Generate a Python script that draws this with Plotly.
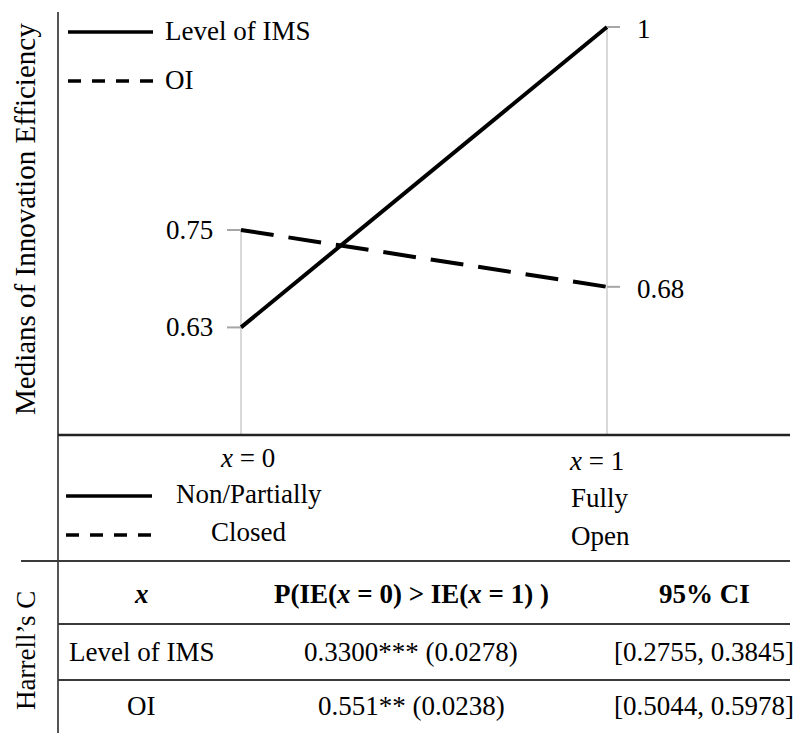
import plotly.graph_objects as go

# ---------------- data ----------------
x_positions = [0, 1]
series_names = ["Level of IMS", "OI"]
ims_values = [0.63, 1.0]
oi_values = [0.75, 0.68]
x_tick_labels = ["x = 0", "x = 1"]
ims_categories = ["Non/Partially", "Fully"]
oi_categories = ["Closed", "Open"]
y_title = "Medians of Innovation Efficiency"

table_side_label = "Harrell’s C"
table_header = ["<b><i>x</i></b>", "<b>P(IE(<i>x</i> = 0) &gt; IE(<i>x</i> = 1) )</b>", "<b>95% CI</b>"]
table_rows = [
    ["Level of IMS", "0.3300*** (0.0278)", "[0.2755, 0.3845]"],
    ["OI", "0.551** (0.0238)", "[0.5044, 0.5978]"],
]

# ---------------- geometry helpers ----------------
W, H = 801, 733
FONT = "'Liberation Serif', 'Times New Roman', serif"
FS = 27


def px(x):
    return x / W


def py(y):
    return 1 - y / H


YR = [0.4975, 1.0185]
XR = [-0.5, 1.5]

fig = go.Figure()

fig.add_trace(go.Scatter(x=x_positions, y=ims_values, mode="lines", name=series_names[0],
                         line=dict(color="black", width=4), showlegend=False, hoverinfo="skip"))
fig.add_trace(go.Scatter(x=x_positions, y=oi_values, mode="lines", name=series_names[1],
                         line=dict(color="black", width=4, dash="33px,15px"), showlegend=False,
                         hoverinfo="skip"))

shapes = []
annotations = []

# drop lines from highest point down to axis
for xi in x_positions:
    top = max(ims_values[xi], oi_values[xi])
    shapes.append(dict(type="line", xref="x", yref="y", x0=xi, x1=xi, y0=YR[0], y1=top,
                       line=dict(color="#d9d9d9", width=2), layer="below"))

# leader ticks and value labels
for xi in x_positions:
    for vals in (ims_values, oi_values):
        v = vals[xi]
        if xi == 0:
            shapes.append(dict(type="line", xref="x", yref="y", xsizemode="pixel", xanchor=xi,
                               x0=-14, x1=0, y0=v, y1=v, line=dict(color="#a6a6a6", width=2)))
            annotations.append(dict(x=xi, y=v, xref="x", yref="y", text=f"{v:g}",
                                    showarrow=False, xanchor="right", yanchor="middle",
                                    xshift=-26, font=dict(family=FONT, size=FS, color="black")))
        else:
            shapes.append(dict(type="line", xref="x", yref="y", xsizemode="pixel", xanchor=xi,
                               x0=0, x1=13, y0=v, y1=v, line=dict(color="#a6a6a6", width=2)))
            annotations.append(dict(x=xi, y=v, xref="x", yref="y", text=f"{v:g}",
                                    showarrow=False, xanchor="left", yanchor="middle",
                                    xshift=28, yshift=-2,
                                    font=dict(family=FONT, size=FS, color="black")))

# structural lines
line_dark = dict(color="#3a3a3a", width=2)
shapes += [
    dict(type="line", xref="paper", yref="paper", x0=px(58), x1=px(58), y0=py(12), y1=py(733),
         line=dict(color="#555555", width=2)),
    dict(type="line", xref="paper", yref="paper", x0=px(58), x1=px(790), y0=py(435), y1=py(435),
         line=dict(color="#222222", width=2.5)),
    dict(type="line", xref="paper", yref="paper", x0=px(21), x1=px(790), y0=py(561), y1=py(561),
         line=line_dark),
    dict(type="line", xref="paper", yref="paper", x0=px(58), x1=px(790), y0=py(624), y1=py(624),
         line=line_dark),
    dict(type="line", xref="paper", yref="paper", x0=px(58), x1=px(790), y0=py(680), y1=py(680),
         line=line_dark),
]

# legend (top-left) and category keys (below axis)
def key_line(x0, x1, y, dash):
    shapes.append(dict(type="line", xref="paper", yref="paper", x0=px(x0), x1=px(x1),
                       y0=py(y), y1=py(y), line=dict(color="black", width=3.5, dash=dash)))


def txt(x, y, s, xa="center", size=FS, angle=0):
    annotations.append(dict(x=px(x), y=py(y), xref="paper", yref="paper", text=s,
                            showarrow=False, xanchor=xa, yanchor="middle", textangle=angle,
                            font=dict(family=FONT, size=size, color="black")))


key_line(68, 153, 32, "solid")
key_line(68, 153, 81, "13px,11px")
txt(163, 31, series_names[0], "left")
txt(163, 80, series_names[1], "left")

txt(25, 219, y_title, angle=-90, size=29)

# x labels
txt(248, 458, x_tick_labels[0].replace("x", "<i>x</i>"))
txt(596, 461, x_tick_labels[1].replace("x", "<i>x</i>"))
key_line(66, 152, 496, "solid")
key_line(66, 152, 535, "13px,11px")
txt(249, 494, ims_categories[0])
txt(249, 532, oi_categories[0])
txt(569, 498, ims_categories[1], "left")
txt(569, 536, oi_categories[1], "left")

# table
txt(26, 651, table_side_label, angle=-90)
col_x = [141, 411, 704]
row_y = [594, 652, 706]
for cx, s in zip(col_x, table_header):
    txt(cx, row_y[0], s)
for r, row in enumerate(table_rows):
    for cx, s in zip(col_x, row):
        txt(cx, row_y[r + 1], s)

fig.update_layout(
    width=W, height=H,
    margin=dict(l=0, r=0, t=0, b=0),
    paper_bgcolor="white", plot_bgcolor="white",
    xaxis=dict(domain=[px(58), px(790)], range=XR, visible=False, fixedrange=True),
    yaxis=dict(domain=[py(435), py(12)], range=YR, visible=False, fixedrange=True),
    shapes=shapes, annotations=annotations, showlegend=False,
)

fig.write_html("out.html", config={"displayModeBar": False},
               post_script="document.body.style.margin='0px';document.body.style.overflow='hidden';")
